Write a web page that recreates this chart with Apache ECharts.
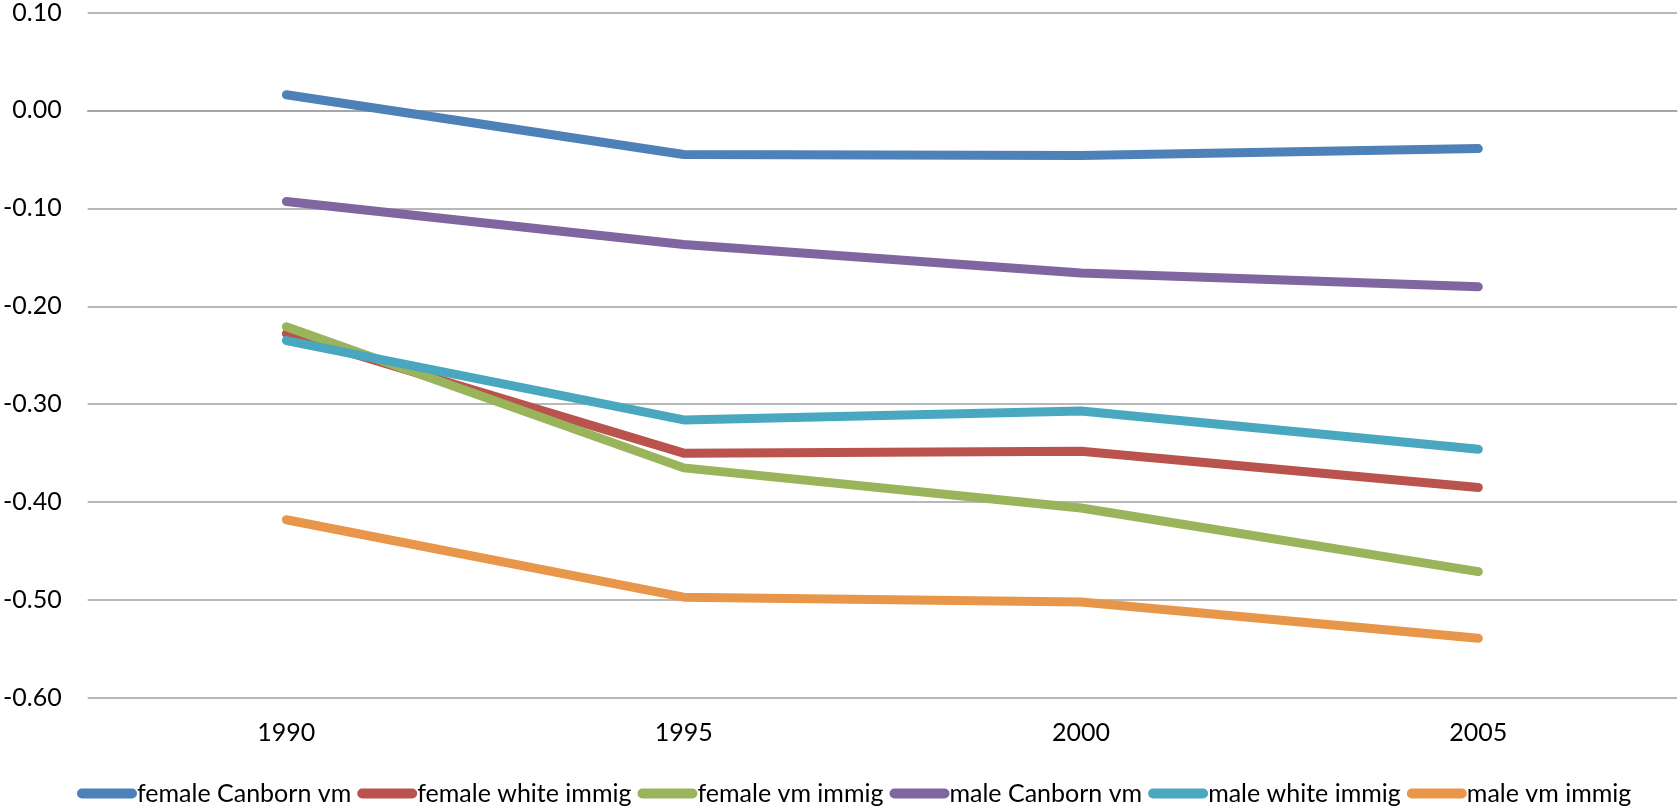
<!DOCTYPE html>
<html>
<head>
<meta charset="utf-8">
<script src="https://cdn.jsdelivr.net/npm/echarts@6/dist/echarts.min.js"></script>
<style>
html,body{margin:0;padding:0;background:#fff;}
#chart{width:1678px;height:809px;}
</style>
</head>
<body>
<div id="chart"></div>
<script>
const categories = ['1990', '1995', '2000', '2005'];
const seriesNames = ['female Canborn vm', 'female white immig', 'female vm immig', 'male Canborn vm', 'male white immig', 'male vm immig'];
const femaleCanbornVm = [0.016, -0.045, -0.046, -0.039];
const femaleWhiteImmig = [-0.228, -0.350, -0.348, -0.385];
const femaleVmImmig = [-0.221, -0.365, -0.406, -0.471];
const maleCanbornVm = [-0.093, -0.137, -0.166, -0.180];
const maleWhiteImmig = [-0.235, -0.316, -0.307, -0.346];
const maleVmImmig = [-0.418, -0.497, -0.502, -0.539];
const colors = ['#4E81B8', '#BA534E', '#99B45A', '#8066A0', '#4AA7C0', '#E7964A'];

const allData = [femaleCanbornVm, femaleWhiteImmig, femaleVmImmig, maleCanbornVm, maleWhiteImmig, maleVmImmig];
const FONT = 'Lato';

const chart = echarts.init(document.getElementById('chart'), null, {renderer: 'canvas'});
chart.setOption({
  animation: false,
  color: colors,
  textStyle: {fontFamily: FONT},
  grid: {left: 85, right: 1, top: 11, bottom: 111, containLabel: false},
  legend: {
    left: 77,
    top: 781,
    padding: 0,
    itemGap: 6,
    itemWidth: 60,
    itemHeight: 10,
    icon: 'path://M5,0 L55,0 A5,5 0 0 1 55,10 L5,10 A5,5 0 0 1 5,0 Z',
    textStyle: {fontSize: 25, color: '#000', fontFamily: FONT, padding: [0, 0, 0, -5]},
    data: seriesNames
  },
  xAxis: {
    type: 'category',
    data: categories,
    boundaryGap: true,
    axisLine: {show: true, lineStyle: {color: '#a0a0a0', width: 1.5}},
    axisTick: {show: false},
    axisLabel: {fontSize: 25, color: '#000', margin: 22, fontFamily: FONT},
    splitLine: {show: false}
  },
  yAxis: {
    type: 'value',
    min: -0.6,
    max: 0.1,
    interval: 0.1,
    axisLine: {show: false},
    axisTick: {show: false},
    axisLabel: {fontSize: 25, color: '#000', margin: 26, fontFamily: FONT,
      formatter: v => (Math.abs(v) < 1e-9 ? 0 : v).toFixed(2)},
    splitLine: {show: true, lineStyle: {color: '#a0a0a0', width: 1.5}}
  },
  series: seriesNames.map((name, i) => ({
    name: name,
    type: 'line',
    data: allData[i],
    symbol: 'none',
    showSymbol: false,
    smooth: false,
    lineStyle: {width: 9, color: colors[i], cap: 'round', join: 'round'},
    itemStyle: {color: colors[i]}
  }))
});
</script>
</body>
</html>
